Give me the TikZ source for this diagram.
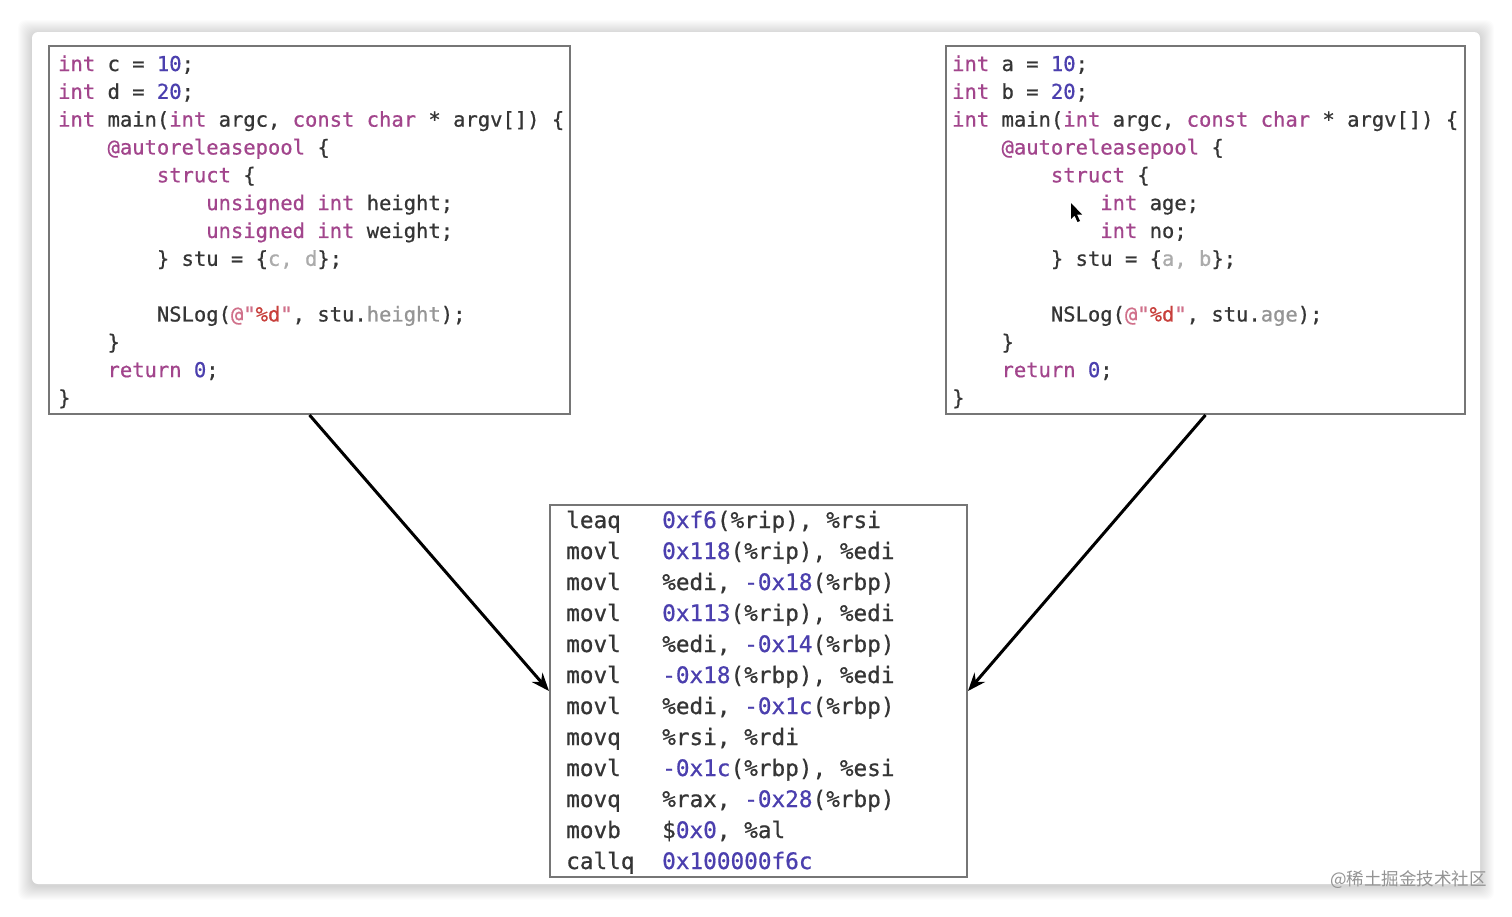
\documentclass[tikz,border=0pt]{standalone}
\usepackage{fontspec}
\setmonofont[FakeBold=0.7]{DejaVu Sans Mono}
\newfontfamily\cjk{Noto Sans CJK SC}
\usetikzlibrary{arrows.meta}
\definecolor{kw}{HTML}{A2458C}
\definecolor{num}{HTML}{4B3FAE}
\definecolor{txt}{HTML}{353535}
\definecolor{strq}{HTML}{D0708A}
\definecolor{strr}{HTML}{C8403C}
\definecolor{lt}{HTML}{ABABAB}
\definecolor{gt}{HTML}{959595}
\definecolor{boxc}{HTML}{767676}
\newcommand\K[1]{\textcolor{kw}{#1}}
\newcommand\N[1]{\textcolor{num}{#1}}
\newcommand\Lt[1]{\textcolor{lt}{#1}}
\newcommand\Gt[1]{\textcolor{gt}{#1}}
\newcommand\Sq[1]{\textcolor{strq}{#1}}
\newcommand\Sr[1]{\textcolor{strr}{#1}}
\begin{document}
\begin{tikzpicture}[x=1pt,y=-1pt,
  codebox/.style={draw=boxc,line width=2pt,fill=white,inner sep=0pt},
  src/.style={anchor=base west,inner sep=0pt,text=txt,font=\fontsize{20.5}{24}\selectfont\ttfamily},
  asm/.style={anchor=base west,inner sep=0pt,text=txt,font=\fontsize{22.7}{27}\selectfont\ttfamily},
  conn/.style={line width=3pt,black,-{Stealth[length=18pt,width=14pt]}}]
\useasboundingbox (0,0) rectangle (1512,916);
\fill[white] (0,0) rectangle (1512,916);
% card shadow
\foreach \k in {1,...,14}{
  \fill[black,opacity=0.011,rounded corners=8pt] (32-\k,32-\k+2) rectangle (1480+\k,884+\k+2);
}
\fill[white,rounded corners=6pt] (32,32) rectangle (1480,884);

% boxes
\node[codebox,minimum width=521pt,minimum height=368pt] (L) at (309.5,230) {};
\node[codebox,minimum width=519pt,minimum height=368pt] (R) at (1205.5,230) {};
\node[codebox,minimum width=417pt,minimum height=372pt] (B) at (758.5,691) {};

% left code (cw = 12.34)
\node[src] (l1) at (58,71) {\K{int} c = \N{10};};
\node[src] (l2) at (58,98.83) {\K{int} d = \N{20};};
\node[src] (l3) at (58,126.66) {\K{int} main(\K{int} argc, \K{const} \K{char} * argv[]) \{};
\node[src] (l4) at (107.36,154.49) {\K{@autoreleasepool} \{};
\node[src] (l5) at (156.72,182.32) {\K{struct} \{};
\node[src] (l6) at (206.08,210.15) {\K{unsigned} \K{int} height;};
\node[src] (l7) at (206.08,237.98) {\K{unsigned} \K{int} weight;};
\node[src] (l8) at (156.72,265.81) {\} stu = \{\Lt{c, d}\};};
\node[src] (l10) at (156.72,321.47) {NSLog(\Sq{@"}\Sr{\%d}\Sq{"}, stu.\Gt{height});};
\node[src] (l11) at (107.36,349.30) {\}};
\node[src] (l12) at (107.36,377.13) {\K{return} \N{0};};
\node[src] (l13) at (58,404.96) {\}};

% right code
\node[src] (r1) at (952,71) {\K{int} a = \N{10};};
\node[src] (r2) at (952,98.83) {\K{int} b = \N{20};};
\node[src] (r3) at (952,126.66) {\K{int} main(\K{int} argc, \K{const} \K{char} * argv[]) \{};
\node[src] (r4) at (1001.36,154.49) {\K{@autoreleasepool} \{};
\node[src] (r5) at (1050.72,182.32) {\K{struct} \{};
\node[src] (r6) at (1100.08,210.15) {\K{int} age;};
\node[src] (r7) at (1100.08,237.98) {\K{int} no;};
\node[src] (r8) at (1050.72,265.81) {\} stu = \{\Lt{a, b}\};};
\node[src] (r10) at (1050.72,321.47) {NSLog(\Sq{@"}\Sr{\%d}\Sq{"}, stu.\Gt{age});};
\node[src] (r11) at (1001.36,349.30) {\}};
\node[src] (r12) at (1001.36,377.13) {\K{return} \N{0};};
\node[src] (r13) at (952,404.96) {\}};

% mouse cursor
\fill[black] (1071,203) -- (1071,219) -- (1074.5,215.5) -- (1077.5,222) -- (1080,221) -- (1077,214.5) -- (1082,214.5) -- cycle;

% assembly
\node[asm] (a1) at (566,528) {leaq};
\node[asm] (b1) at (662,528) {\N{0xf6}(\%rip), \%rsi};
\node[asm] (a2) at (566,559) {movl};
\node[asm] (b2) at (662,559) {\N{0x118}(\%rip), \%edi};
\node[asm] (a3) at (566,590) {movl};
\node[asm] (b3) at (662,590) {\%edi, \N{-0x18}(\%rbp)};
\node[asm] (a4) at (566,621) {movl};
\node[asm] (b4) at (662,621) {\N{0x113}(\%rip), \%edi};
\node[asm] (a5) at (566,652) {movl};
\node[asm] (b5) at (662,652) {\%edi, \N{-0x14}(\%rbp)};
\node[asm] (a6) at (566,683) {movl};
\node[asm] (b6) at (662,683) {\N{-0x18}(\%rbp), \%edi};
\node[asm] (a7) at (566,714) {movl};
\node[asm] (b7) at (662,714) {\%edi, \N{-0x1c}(\%rbp)};
\node[asm] (a8) at (566,745) {movq};
\node[asm] (b8) at (662,745) {\%rsi, \%rdi};
\node[asm] (a9) at (566,776) {movl};
\node[asm] (b9) at (662,776) {\N{-0x1c}(\%rbp), \%esi};
\node[asm] (a10) at (566,807) {movq};
\node[asm] (b10) at (662,807) {\%rax, \N{-0x28}(\%rbp)};
\node[asm] (a11) at (566,838) {movb};
\node[asm] (b11) at (662,838) {\$\N{0x0}, \%al};
\node[asm] (a12) at (566,869) {callq};
\node[asm] (b12) at (662,869) {\N{0x100000f6c}};

% connectors
\draw[conn] (L.south) -- (B.west);
\draw[conn] (R.south) -- (B.east);

% watermark
\node[anchor=east,inner sep=0pt,text=gray!85,font=\cjk\fontsize{17.5}{20}\selectfont] (wm) at (1487,880) {@稀土掘金技术社区};
\end{tikzpicture}
\end{document}
